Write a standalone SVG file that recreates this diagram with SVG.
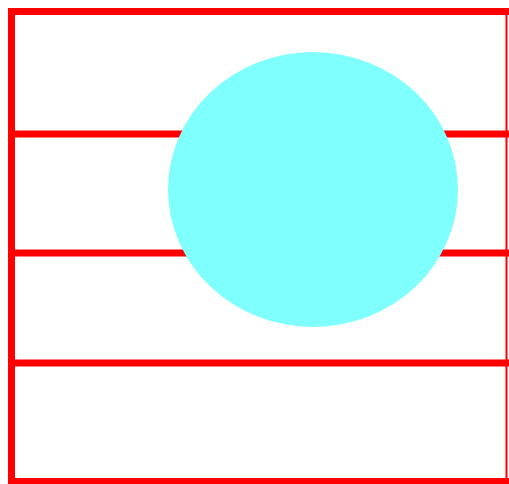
<svg xmlns="http://www.w3.org/2000/svg" width="509" height="484" viewBox="0 0 509 484">
<style>
.r{stroke:#ff0000;stroke-width:7;fill:none}
</style>
<rect width="509" height="484" fill="#ffffff"/>
<g id="frame">
<line class="r" x1="8" y1="11.5" x2="509" y2="11.5"/>
<line class="r" x1="11.5" y1="8" x2="11.5" y2="484"/>
<line class="r" x1="8" y1="481.5" x2="509" y2="481.5"/>
<line x1="506.5" y1="8" x2="506.5" y2="484" stroke="#ff0000" stroke-width="2"/>
<line class="r" x1="8" y1="134" x2="509" y2="134"/>
<line class="r" x1="8" y1="253" x2="509" y2="253"/>
<line class="r" x1="8" y1="363" x2="509" y2="363"/>
</g>
<g id="circle">
<ellipse cx="313" cy="189.5" rx="145" ry="137.5" fill="#80ffff"/>
</g>
</svg>
